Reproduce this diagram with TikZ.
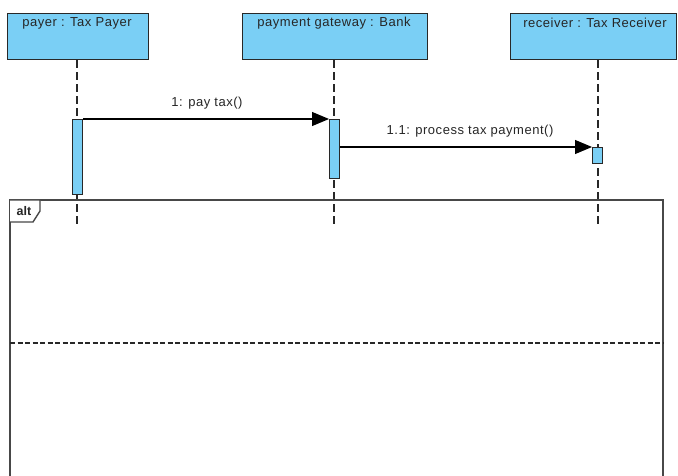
\documentclass[tikz,border=0pt]{standalone}
\usepackage{fontspec}
\setmainfont{Liberation Sans}
\usetikzlibrary{arrows.meta}
\definecolor{lblue}{RGB}{122,207,245}
\definecolor{edge}{RGB}{40,40,40}
\begin{document}
\begin{tikzpicture}[x=1pt,y=-1pt,
  lifebox/.style={draw=edge,fill=lblue,line width=1.3pt,inner sep=0pt,anchor=north west},
  actbox/.style={draw=edge,fill=lblue,line width=1.2pt,inner sep=0pt,anchor=north west,minimum width=10pt},
  lifeline/.style={draw=edge,line width=1.1pt,dash pattern=on 8pt off 4pt},
  msg/.style={draw=black,line width=1.1pt,-{Triangle[length=17pt,width=14pt]}},
  txt/.style={font=\fontsize{13}{15}\selectfont\addfontfeature{LetterSpace=4},text=black!85,inner sep=0pt},
  frameline/.style={draw=edge!85,line width=1.4pt}
]
\useasboundingbox (0,0) rectangle (678,476);
\clip (0,0) rectangle (678,476);
\fill[white] (0,0) rectangle (678,476);

% lifeline heads
\node[lifebox,minimum width=141pt,minimum height=46pt] (payer) at (7,13) {};
\node[lifebox,minimum width=185pt,minimum height=46pt] (gate) at (242,13) {};
\node[lifebox,minimum width=166pt,minimum height=46pt] (recv) at (510,13) {};
\node[txt] (payerT) at (77,23) {payer : Tax Payer};
\node[txt] (gateT) at (334,23) {payment gateway : Bank};
\node[txt] (recvT) at (595,23) {receiver : Tax Receiver};

% lifeline ends
\coordinate (payerE) at (77,227);
\coordinate (gateE) at (334,227);
\coordinate (recvE) at (598,227);
\draw[lifeline] (payer.south -| payerE) -- (payerE);
\draw[lifeline] (gate.south -| gateE) -- (gateE);
\draw[lifeline] (recv.south -| recvE) -- (recvE);

% activations
\node[actbox,minimum height=75pt] (actP) at (72,119) {};
\node[actbox,minimum height=59pt] (actG) at (329,119) {};
\node[actbox,minimum height=16pt] (actR) at (592,147) {};

% messages
\draw[msg] (actP.north east) -- (actG.north west);
\node[txt] (m1) at (207,103) {1: pay tax()};
\coordinate (m2s) at (actG.east |- actR.north);
\draw[msg] (m2s) -- (actR.north west);
\node[txt] (m2) at (470,131) {1.1: process tax payment()};

% alt frame
\coordinate (fTL) at (10,200);
\coordinate (fTR) at (663,200);
\draw[frameline] (10,490) -- (fTL) -- (fTR) -- (663,490);
\draw[frameline,fill=white] (fTL) -- (40,200) -- (40,211) -- (33,222) -- (10,222);
\node[txt,font=\fontsize{12.5}{14}\selectfont\bfseries] (altT) at (24,211) {alt};
\draw[draw=edge,line width=1.1pt,dash pattern=on 5pt off 2.5pt] (10,343) -- (663,343);
\end{tikzpicture}
\end{document}
